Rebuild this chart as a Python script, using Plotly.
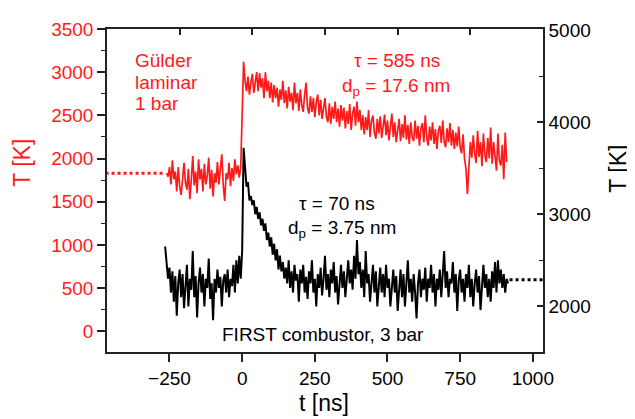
import numpy as np
import plotly.graph_objects as go

# ---------------- data ----------------
# Gülder laminar, 1 bar (left axis, red); sampled every 5 ns from -260 ns
red_t0 = -260
red_dt = 5
red_T = [
    1830, 1790, 1900, 1700, 1980, 1760, 1850, 1620, 1900, 1680, 1580, 1820, 1950, 1720, 1640, 1880,
    1530, 1750, 2030, 1690, 1850, 1600, 1990, 1760, 1880, 1620, 1940, 1700, 1800, 2010, 1650, 1870,
    1560, 1830, 1720, 1960, 1700, 1880, 2050, 1690, 1510, 1830, 1760, 1950, 1680, 1890, 1740, 1990,
    1820, 1920, 1780, 1900,
    2500, 3120, 2900, 2780, 2950, 2740, 2880, 2980, 2760, 2900, 3000, 2780, 2990, 2820, 2930, 2700,
    3000, 2780, 2900, 2700, 2880, 2650, 2850, 2700, 2820, 2600, 2800, 2680, 2900, 2640, 2790, 2580,
    2830, 2660, 2760, 2560, 2880, 2640, 2760, 2550, 2800, 2620, 2540, 2740, 2880, 2580, 2520, 2720,
    2540, 2700, 2480, 2660, 2740, 2500, 2680, 2460, 2620, 2700, 2480, 2420, 2640, 2400, 2600, 2460,
    2660, 2420, 2580, 2370, 2620, 2440, 2590, 2350, 2550, 2400, 2630, 2330, 2520, 2600, 2380, 2660,
    2420, 2560, 2330, 2500, 2280, 2480, 2330, 2560, 2250, 2440, 2500, 2300, 2230, 2460, 2290, 2490,
    2240, 2420, 2510, 2270, 2440, 2210, 2390, 2520, 2250, 2420, 2190, 2370, 2460, 2200, 2400, 2240,
    2500, 2220, 2390, 2170, 2420, 2250, 2200, 2440, 2230, 2380, 2150, 2350, 2410, 2190, 2500, 2240,
    2150, 2370, 2210, 2420, 2170, 2340, 2110, 2320, 2380, 2180, 2440, 2200, 2130, 2350, 2190, 2410,
    2150, 2330, 2110, 2300, 2140, 2370, 2130, 2060, 2280, 2000, 1880, 1590, 1930, 2190, 2010, 2270,
    2060, 1950, 2320, 2020, 2190, 1910, 2290, 2040, 1960, 2240, 2000, 2360, 1940, 2190, 2030, 1860,
    2290, 1970, 1920, 2160, 1760, 2300, 1960,
]

# FIRST combustor, 3 bar (right axis, black); sampled every 5 ns from -265 ns
blk_t0 = -265
blk_dt = 5
blk_T = [
    2650, 2450, 2300, 2420, 2150, 2380, 2050, 2330, 1900, 2250, 2400, 2100, 2350, 1980, 2280, 2450,
    2000, 2300, 2180, 2600, 2100, 2330, 1880, 2250, 2420, 2150, 2350, 2000, 2300, 2200, 2520, 2080,
    2250, 1850, 2300, 2150, 2400, 2200, 2320, 2000, 2280, 2350, 2150, 2400, 2100, 2300, 2220, 2450,
    2150, 2500, 2250, 2550, 2300,
    2600, 3720, 3450, 3300, 3350, 3150, 3200, 3100, 3150, 3000, 3080, 2950, 3020, 2880, 2950, 2820,
    2900, 2720, 2800, 2650, 2750, 2560, 2680, 2500, 2620, 2400, 2550, 2380, 2480, 2300, 2420, 2250,
    2500, 2200, 2380, 2150, 2450, 2280, 2350, 2050, 2400, 2250, 2450, 2150, 2320, 2080, 2380, 2250,
    2500, 2150, 2300, 2000, 2350, 2200, 2420, 2120, 2300, 2550, 2180, 2350, 2100, 2400, 2250, 2480,
    2150, 2330, 2020, 2280, 2450, 2200, 2380, 2100, 2300, 2500, 2250, 2400, 2180, 2550, 2300, 2720,
    2350, 2480, 2200, 2400, 2100, 2600, 2250, 2350, 2050, 2300, 2450, 2150, 2380, 2000, 2280, 2420,
    2150, 2350, 2100, 2450, 2200, 2300, 2000, 2250, 2400, 2150, 2330, 1950, 2250, 2400, 2100, 2350,
    2000, 2280, 2500, 2150, 2300, 2050, 2350, 2150, 1870, 2250, 2400, 2100, 2300, 2180, 2420, 2050,
    2300, 2200, 2450, 2150, 2350, 2000, 2300, 2180, 2400, 2100, 2330, 2600, 2200, 2380, 2100, 2300,
    2250, 2480, 2150, 2350, 1950, 2280, 2400, 2150, 2300, 2050, 2350, 2200, 2450, 2100, 2300, 2000,
    2250, 2400, 2150, 2330, 1960, 2280, 2450, 2200, 2350, 2100, 2300, 2050, 2380, 2200, 2480, 2150,
    2500, 2250, 2400, 2200, 2350, 2150, 2300, 2250,
]

# dotted reference levels
red_level_t = [-470, -265]
red_level_T = [1830, 1830]
blk_level_t = [920, 1040]
blk_level_T = [2290, 2290]

# axes
x_ticks = [-250, 0, 250, 500, 750, 1000]
yl_ticks = [0, 500, 1000, 1500, 2000, 2500, 3000, 3500]
yr_ticks = [2000, 3000, 4000, 5000]

red_t = red_t0 + red_dt * np.arange(len(red_T))
blk_t = blk_t0 + blk_dt * np.arange(len(blk_T))

RED = "#ff1a1a"
FONT = "Liberation Sans, Arial, sans-serif"

fig = go.Figure()
fig.add_trace(go.Scatter(x=red_level_t, y=red_level_T, mode="lines",
                         line=dict(color=RED, width=3, dash="dot"), yaxis="y", showlegend=False))
fig.add_trace(go.Scatter(x=red_t, y=red_T, mode="lines",
                         line=dict(color=RED, width=1.7), yaxis="y", showlegend=False))
fig.add_trace(go.Scatter(x=blk_t, y=blk_T, mode="lines",
                         line=dict(color="black", width=2), yaxis="y2", showlegend=False))
fig.add_trace(go.Scatter(x=blk_level_t, y=blk_level_T, mode="lines",
                         line=dict(color="black", width=3, dash="dot"), yaxis="y2", showlegend=False))
# invisible trace to activate top axis
fig.add_trace(go.Scatter(x=[0], y=[-1000], xaxis="x2", yaxis="y", mode="markers",
                         marker=dict(opacity=0), showlegend=False, hoverinfo="skip"))

# page body has an 8 px margin, so figure coordinates = screen coordinates - 8
OFF = 8
FW, FH = 635 - OFF, 419 - OFF
L, R, T, B = 107 - OFF, 543 - OFF, 19 - OFF, 352 - OFF
W, H = R - L, B - T


def px(x):
    return (x - OFF - L) / W


def py(y):
    return (B - (y - OFF)) / H


AX = "#222222"
fig.update_layout(
    width=FW, height=FH,
    margin=dict(l=L, r=FW - R, t=T, b=FH - B),
    paper_bgcolor="white", plot_bgcolor="white",
    font=dict(family=FONT, size=19, color="black"),
    xaxis=dict(range=[-465, 1035], tickvals=x_ticks, ticks="outside", ticklen=8, tickwidth=1.5,
               tickcolor=AX, showline=True, linecolor=AX, linewidth=1.5, showgrid=False,
               zeroline=False, tickfont=dict(size=19, color="black")),
    xaxis2=dict(range=[-500, 1000], tickvals=x_ticks, ticks="inside", ticklen=6, tickwidth=1.5,
                tickcolor=AX, showline=True, linecolor=AX, linewidth=1.5, showgrid=False,
                zeroline=False, showticklabels=False, overlaying="x", side="top"),
    yaxis=dict(range=[-240, 3500], tickvals=yl_ticks, ticks="outside", ticklen=8, tickwidth=1.5,
               tickcolor=AX, showline=True, linecolor=AX, linewidth=1.5, showgrid=False,
               zeroline=False, tickfont=dict(size=19, color=RED),
               minor=dict(tick0=0, dtick=250, ticks="outside", ticklen=4, tickcolor=AX, tickwidth=1.2)),
    yaxis2=dict(range=[1505, 5010], tickvals=yr_ticks, ticks="inside", ticklen=6, tickwidth=1.5,
                tickcolor=AX, showline=True, linecolor=AX, linewidth=1.5, showgrid=False,
                zeroline=False, overlaying="y", side="right", tickfont=dict(size=19, color="black"),
                minor=dict(tick0=1500, dtick=500, ticks="inside", ticklen=4, tickcolor=AX, tickwidth=1.2)),
)


def ann(text, x, y, color="black", size=19, xanchor="center", angle=0):
    fig.add_annotation(text=text, x=px(x), y=py(y), xref="paper", yref="paper",
                       showarrow=False, xanchor=xanchor, yanchor="middle", textangle=angle,
                       font=dict(family=FONT, size=size, color=color))


ann("Gülder", 133, 51, RED, xanchor="left")
ann("laminar", 133, 74, RED, xanchor="left")
ann("1 bar", 133, 96, RED, xanchor="left")
ann("τ = 585 ns", 397, 51, RED)
ann("d<sub>p</sub> = 17.6 nm", 396, 79, RED)
ann("τ = 70 ns", 337, 199)
ann("d<sub>p</sub> = 3.75 nm", 342, 225)
ann("FIRST combustor, 3 bar", 323, 334)
ann("t [ns]", 324, 405, size=23)
ann("T [K]", 22, 157, RED, size=23, angle=-90)
ann("T [K]", 618, 163, size=23, angle=-90)

fig.write_html("out.html")
